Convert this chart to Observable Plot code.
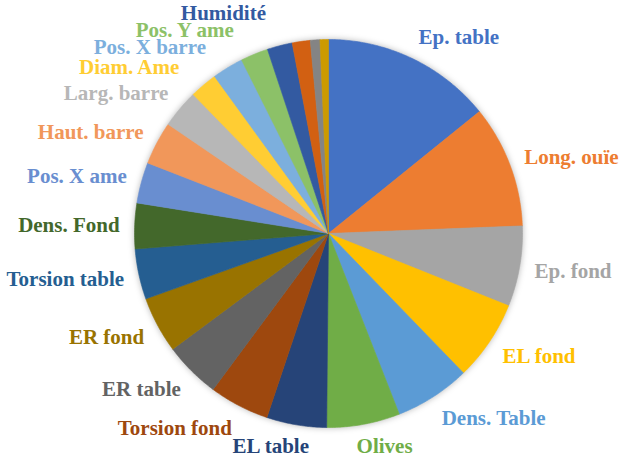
<!DOCTYPE html>
<html>
<head>
<meta charset="utf-8">
<script src="https://cdn.jsdelivr.net/npm/d3@7"></script>
<script src="https://cdn.jsdelivr.net/npm/@observablehq/plot@0.6"></script>
<style>
  html, body { margin: 0; padding: 0; background: #ffffff; }
  #chart svg { display: block; }
  #chart g[aria-label="line"] { filter: drop-shadow(0px 0px 3px rgba(0,0,0,0.28)); }
  #chart text { font-family: "Liberation Serif", "DejaVu Serif", serif !important; font-weight: bold !important; font-size: 21px !important; }
</style>
</head>
<body>
<div id="chart"></div>
<script>
// ---- data (values in %) ----
const categories = ["Ep. table","Long. ouïe","Ep. fond","EL fond","Dens. Table","Olives",
  "EL table","Torsion fond","ER table","ER fond","Torsion table","Dens. Fond","Pos. X ame",
  "Haut. barre","Larg. barre","Diam. Ame","Pos. X barre","Pos. Y ame","Humidité",
  "Autre 1","Autre 2","Autre 3"];
const values = [14.2,10.2,6.7,6.7,6.3,6.1,5.0,5.0,4.7,4.7,4.2,3.8,3.4,3.6,3.2,2.3,2.6,2.3,2.1,1.5,0.8,0.7];
const shownLabels = [true,true,true,true,true,true,true,true,true,true,true,true,true,true,true,true,true,true,true,false,false,false];
const colors = ["#4472C4","#ED7D31","#A5A5A5","#FFC000","#5B9BD5","#70AD47","#264478","#9E480E",
  "#636363","#997300","#255E91","#43682B","#698ED0","#F1975A","#B7B7B7","#FFCD33","#7CAFDD",
  "#8CC168","#335AA1","#D26012","#848484","#CC9A00"];

// ---- layout ----
const W = 623, H = 457;
const CX = 328, CY = 233, RPX = 194;           // pie centre and radius in pixels
const xDomain = [-CX / RPX, (W - CX) / RPX];
const yDomain = [-(H - CY) / RPX, CY / RPX];
const FONT = "bold 21px 'Liberation Serif'";

const total = d3.sum(values);
const slices = [];
let acc = 0;
categories.forEach((name, i) => {
  const a0 = acc / total * 2 * Math.PI;
  acc += values[i];
  const a1 = acc / total * 2 * Math.PI;
  slices.push({name, value: values[i], a0, a1, mid: (a0 + a1) / 2, show: shownLabels[i]});
});

// polygon vertices for each slice (unit radius)
const pts = [];
for (const s of slices) {
  pts.push({name: s.name, x: 0, y: 0});
  const n = Math.max(2, Math.ceil((s.a1 - s.a0) / (Math.PI / 360)));
  for (let k = 0; k <= n; k++) {
    const a = s.a0 + (s.a1 - s.a0) * k / n;
    pts.push({name: s.name, x: Math.sin(a), y: Math.cos(a)});
  }
  pts.push({name: s.name, x: 0, y: 0});
}

// label placement (outside end, like the spreadsheet default)
const ctx = document.createElement("canvas").getContext("2d");
ctx.font = FONT;
const gap = 15, halfUp = 8.5, halfDown = 11, k = 3.6, sep = 17, crowdShift = 14, smallPct = 3;
const labels = slices.filter(s => s.show).map(s => {
  const w = ctx.measureText(s.name).width;
  const R = RPX + gap;
  const sn = Math.sin(s.mid), cs = Math.cos(s.mid);
  const px = CX + R * sn;
  const py = CY - R * cs;
  const t = Math.max(-1, Math.min(1, k * sn));
  let cx = px + t * w / 2;
  let cy = py - cs * (cs > 0 ? halfUp : halfDown);
  // crowded small slices in the upper left are pushed outward horizontally
  if (sn < 0 && cs > 0 && s.value / total * 100 < smallPct) cx -= crowdShift;
  cy = Math.min(cy, H - 11.5);
  return {name: s.name, mid: s.mid, w, cx, cy};
});
// resolve vertical overlaps on the left side (bottom to top)
const left = labels.filter(l => Math.sin(l.mid) < 0).sort((a, b) => a.mid - b.mid);
for (let i = 1; i < left.length; i++) {
  const a = left[i], b = left[i - 1];
  const xOverlap = Math.abs(a.cx - b.cx) < (a.w + b.w) / 2;
  if (xOverlap && a.cy > b.cy - sep) a.cy = b.cy - sep;
}
const labelData = labels.map(l => ({name: l.name, x: (l.cx - CX) / RPX, y: (CY - l.cy) / RPX}));

const chart = Plot.plot({
  width: W, height: H,
  margin: 0, marginTop: 0, marginRight: 0, marginBottom: 0, marginLeft: 0,
  x: {domain: xDomain, axis: null},
  y: {domain: yDomain, axis: null},
  color: {domain: categories, range: colors},
  style: {background: "#ffffff"},
  marks: [
    Plot.line(pts, {x: "x", y: "y", z: "name", fill: "name", stroke: "name", strokeWidth: 0.6, curve: "linear-closed"}),
    Plot.text(labelData, {x: "x", y: "y", text: "name", fill: "name",
      fontFamily: "Liberation Serif", fontWeight: "bold", fontSize: 21, textAnchor: "middle", lineAnchor: "middle"})
  ]
});
document.getElementById("chart").appendChild(chart);
</script>
</body>
</html>
